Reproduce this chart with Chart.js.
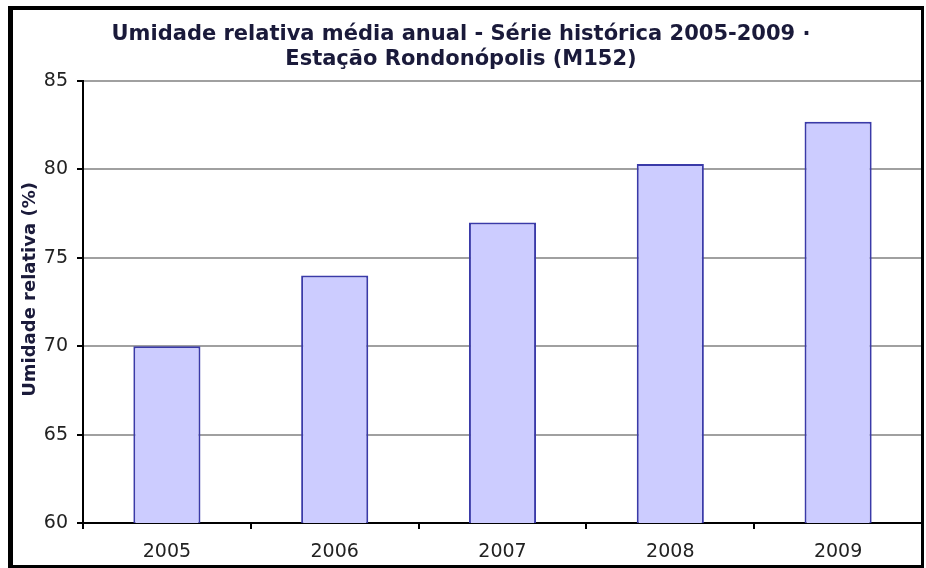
<!DOCTYPE html>
<html>
<head>
<meta charset="utf-8">
<script src="https://cdn.jsdelivr.net/npm/chart.js@4"></script>
<style>
  html, body { margin: 0; padding: 0; background: #fff; }
  #wrap { position: relative; width: 926px; height: 568px; }
  #frame {
    position: absolute; left: 8px; top: 6px; right: 2px; bottom: 0px;
    border-style: solid; border-color: #000;
    border-width: 4px 3px 3px 5px;
    pointer-events: none;
  }
</style>
</head>
<body>
<div id="wrap">
  <canvas id="grafico"></canvas>
  <div id="frame"></div>
</div>
<script>
// dados
const anos = ['2005', '2006', '2007', '2008', '2009'];
const umidade = [70, 74, 77, 80.3, 82.7];
const titulo = ['Umidade relativa média anual - Série histórica 2005-2009 ·', 'Estação Rondonópolis (M152)'];
const tituloEixoY = '    Umidade relativa (%)';
const yMin = 60, yMax = 85, yPasso = 5;

const fonte = 'DejaVu Sans, Verdana, sans-serif';

// borda cinza do lado direito da area de plotagem
const bordaDireita = {
    id: 'bordaDireita',
    afterDraw(chart) {
        const { ctx, chartArea } = chart;
        ctx.save();
        ctx.strokeStyle = '#a0a0a0';
        ctx.lineWidth = 2;
        ctx.beginPath();
        ctx.moveTo(chartArea.right, chartArea.top);
        ctx.lineTo(chartArea.right, chartArea.bottom);
        ctx.stroke();
        ctx.restore();
    }
};

new Chart(document.getElementById('grafico'), {
    type: 'bar',
    data: {
        labels: anos,
        datasets: [{
            data: umidade,
            backgroundColor: '#ccccff',
            borderColor: '#3a3aa8',
            borderWidth: 2,
            barPercentage: 0.8,
            categoryPercentage: 0.5
        }]
    },
    options: {
        responsive: true,
        maintainAspectRatio: false,
        animation: false,
        layout: { padding: { left: 0, right: 4, top: 0, bottom: 0 } },
        plugins: {
            legend: { display: false },
            tooltip: { enabled: false },
            title: {
                display: true,
                text: titulo,
                color: '#1a1a3a',
                font: { family: fonte, size: 21, weight: 'bold', lineHeight: 1.19 },
                padding: { top: 22, bottom: 9 }
            }
        },
        scales: {
            x: {
                grid: { drawOnChartArea: false, color: '#000', lineWidth: 2, tickLength: 6 },
                border: { color: '#000', width: 2 },
                ticks: { color: '#222', font: { family: fonte, size: 19 }, padding: 12 },
                afterFit(scale) { scale.height = 45; }
            },
            y: {
                min: yMin,
                max: yMax,
                ticks: { stepSize: yPasso, color: '#222', font: { family: fonte, size: 19 }, padding: 9 },
                grid: { color: '#a0a0a0', lineWidth: 2, tickColor: '#000', tickLength: 6 },
                border: { color: '#000', width: 2 },
                title: {
                    display: true,
                    text: tituloEixoY,
                    color: '#1a1a3a',
                    font: { family: fonte, size: 18, weight: 'bold' },
                    padding: { top: 20, bottom: 0 }
                },
                afterFit(scale) { scale.width = 83; }
            }
        }
    },
    plugins: [bordaDireita]
});
</script>
</body>
</html>
